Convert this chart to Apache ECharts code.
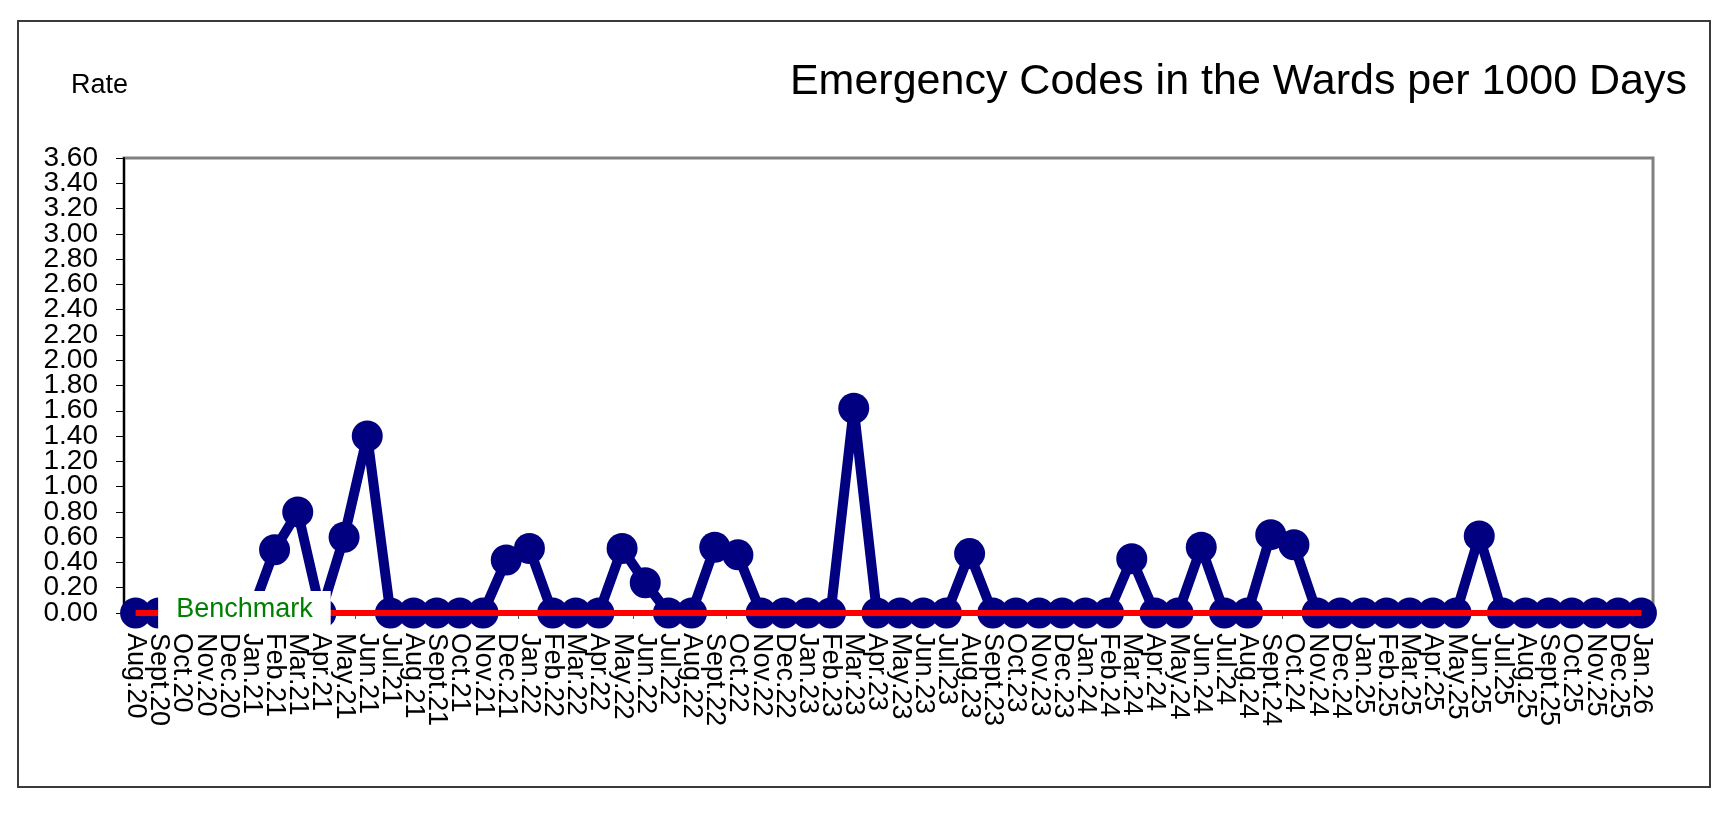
<!DOCTYPE html>
<html>
<head>
<meta charset="utf-8">
<script src="https://cdn.jsdelivr.net/npm/echarts@6/dist/echarts.min.js"></script>
<style>
  html, body { margin: 0; padding: 0; background: #fff; }
  #chart { width: 1736px; height: 816px; }
</style>
</head>
<body>
<div id="chart"></div>
<script>
// months shown on the x axis
var months = [
  'Aug.20', 'Sept.20', 'Oct.20', 'Nov.20', 'Dec.20',
  'Jan.21', 'Feb.21', 'Mar.21', 'Apr.21', 'May.21', 'Jun.21', 'Jul.21', 'Aug.21', 'Sept.21', 'Oct.21', 'Nov.21', 'Dec.21',
  'Jan.22', 'Feb.22', 'Mar.22', 'Apr.22', 'May.22', 'Jun.22', 'Jul.22', 'Aug.22', 'Sept.22', 'Oct.22', 'Nov.22', 'Dec.22',
  'Jan.23', 'Feb.23', 'Mar.23', 'Apr.23', 'May.23', 'Jun.23', 'Jul.23', 'Aug.23', 'Sept.23', 'Oct.23', 'Nov.23', 'Dec.23',
  'Jan.24', 'Feb.24', 'Mar.24', 'Apr.24', 'May.24', 'Jun.24', 'Jul.24', 'Aug.24', 'Sept.24', 'Oct.24', 'Nov.24', 'Dec.24',
  'Jan.25', 'Feb.25', 'Mar.25', 'Apr.25', 'May.25', 'Jun.25', 'Jul.25', 'Aug.25', 'Sept.25', 'Oct.25', 'Nov.25', 'Dec.25',
  'Jan.26'
];

// rate per 1000 days
var rate = [
  0, 0, 0, 0, 0,
  0, 0.50, 0.80, 0, 0.60, 1.40, 0, 0, 0, 0, 0, 0.42,
  0.51, 0, 0, 0, 0.51, 0.24, 0, 0, 0.52, 0.46, 0, 0,
  0, 0, 1.62, 0, 0, 0, 0, 0.47, 0, 0, 0, 0,
  0, 0, 0.43, 0, 0, 0.52, 0, 0, 0.62, 0.54, 0, 0,
  0, 0, 0, 0, 0, 0.61, 0, 0, 0, 0, 0, 0,
  0
];

// benchmark line
var benchmark = [
  0, 0, 0, 0, 0,
  0, 0, 0, 0, 0, 0, 0, 0, 0, 0, 0, 0,
  0, 0, 0, 0, 0, 0, 0, 0, 0, 0, 0, 0,
  0, 0, 0, 0, 0, 0, 0, 0, 0, 0, 0, 0,
  0, 0, 0, 0, 0, 0, 0, 0, 0, 0, 0, 0,
  0, 0, 0, 0, 0, 0, 0, 0, 0, 0, 0, 0,
  0
];

var yMin = 0;
var yMax = 3.6;
var yStep = 0.2;

var font = "'Liberation Sans', Arial, sans-serif";

// the labels are packed so tight that echarts drops some of them,
// so even and odd steps go on two stacked axes
function stepLabel(odd) {
  return function (v) {
    var k = Math.round(v / yStep);
    return (k % 2 === 1) === odd ? v.toFixed(2) : '';
  };
}

var yLabel = {
  margin: 26,
  fontSize: 28,
  color: '#000',
  fontFamily: font,
  showMinLabel: true,
  showMaxLabel: true
};

var chart = echarts.init(document.getElementById('chart'), null, { renderer: 'canvas' });

var option = {
  backgroundColor: '#fff',
  animation: false,
  textStyle: { fontFamily: font },
  title: [{
    text: 'Rate',
    left: 71,
    top: 72,
    padding: 0,
    textStyle: { fontSize: 27, fontWeight: 'normal', color: '#000', fontFamily: font, lineHeight: 27 }
  }, {
    text: 'Emergency Codes in the Wards per 1000 Days',
    right: 49,
    top: 61,
    padding: 0,
    textStyle: { fontSize: 43, fontWeight: 'normal', color: '#000', fontFamily: font, lineHeight: 43 }
  }],
  graphic: [{
    type: 'rect',
    shape: { x: 18, y: 21, width: 1692, height: 766 },
    style: { fill: 'none', stroke: '#3a3a3a', lineWidth: 2 },
    silent: true,
    z: -1
  }],
  grid: {
    left: 124,
    top: 158,
    right: 83,
    bottom: 203,
    show: true,
    borderColor: '#808080',
    borderWidth: 3,
    backgroundColor: '#fff'
  },
  xAxis: {
    type: 'category',
    data: months,
    boundaryGap: true,
    axisLine: { show: true, lineStyle: { color: '#000', width: 2 } },
    axisTick: { show: true, interval: 0, length: 6, lineStyle: { color: '#555', width: 1 } },
    axisLabel: {
      interval: 0,
      rotate: -90,
      margin: 20,
      fontSize: 27,
      color: '#000',
      fontFamily: font,
      hideOverlap: false
    },
    splitLine: { show: false }
  },
  yAxis: [{
    type: 'value',
    position: 'left',
    min: yMin,
    max: yMax,
    interval: yStep,
    axisLine: { show: true, lineStyle: { color: '#000', width: 2 } },
    axisTick: { show: true, length: 8, lineStyle: { color: '#000', width: 1 } },
    axisLabel: Object.assign({ formatter: stepLabel(false) }, yLabel),
    splitLine: { show: false }
  }, {
    type: 'value',
    position: 'left',
    offset: 0,
    min: yMin,
    max: yMax,
    interval: yStep,
    axisLine: { show: false },
    axisTick: { show: false },
    axisLabel: Object.assign({ formatter: stepLabel(true) }, yLabel),
    splitLine: { show: false }
  }],
  series: [{
    name: 'Rate',
    type: 'line',
    data: rate,
    yAxisIndex: 0,
    z: 2,
    symbol: 'circle',
    symbolSize: 31,
    showAllSymbol: true,
    lineStyle: { color: '#000080', width: 10, join: 'round' },
    itemStyle: { color: '#000080' }
  }, {
    name: 'Benchmark',
    type: 'line',
    data: benchmark,
    yAxisIndex: 0,
    z: 3,
    showSymbol: false,
    lineStyle: { color: '#ff0000', width: 6 },
    itemStyle: { color: '#ff0000' },
    markPoint: {
      z: 5,
      symbol: 'rect',
      symbolSize: 0,
      data: [{ coord: ['Jan.21', 0] }],
      label: {
        show: true,
        position: 'inside',
        offset: [-7, -3],
        formatter: 'Benchmark',
        color: '#008000',
        fontSize: 27,
        fontFamily: font,
        backgroundColor: '#fff',
        padding: [5, 18, 6, 18]
      }
    }
  }]
};

chart.setOption(option);
</script>
</body>
</html>
